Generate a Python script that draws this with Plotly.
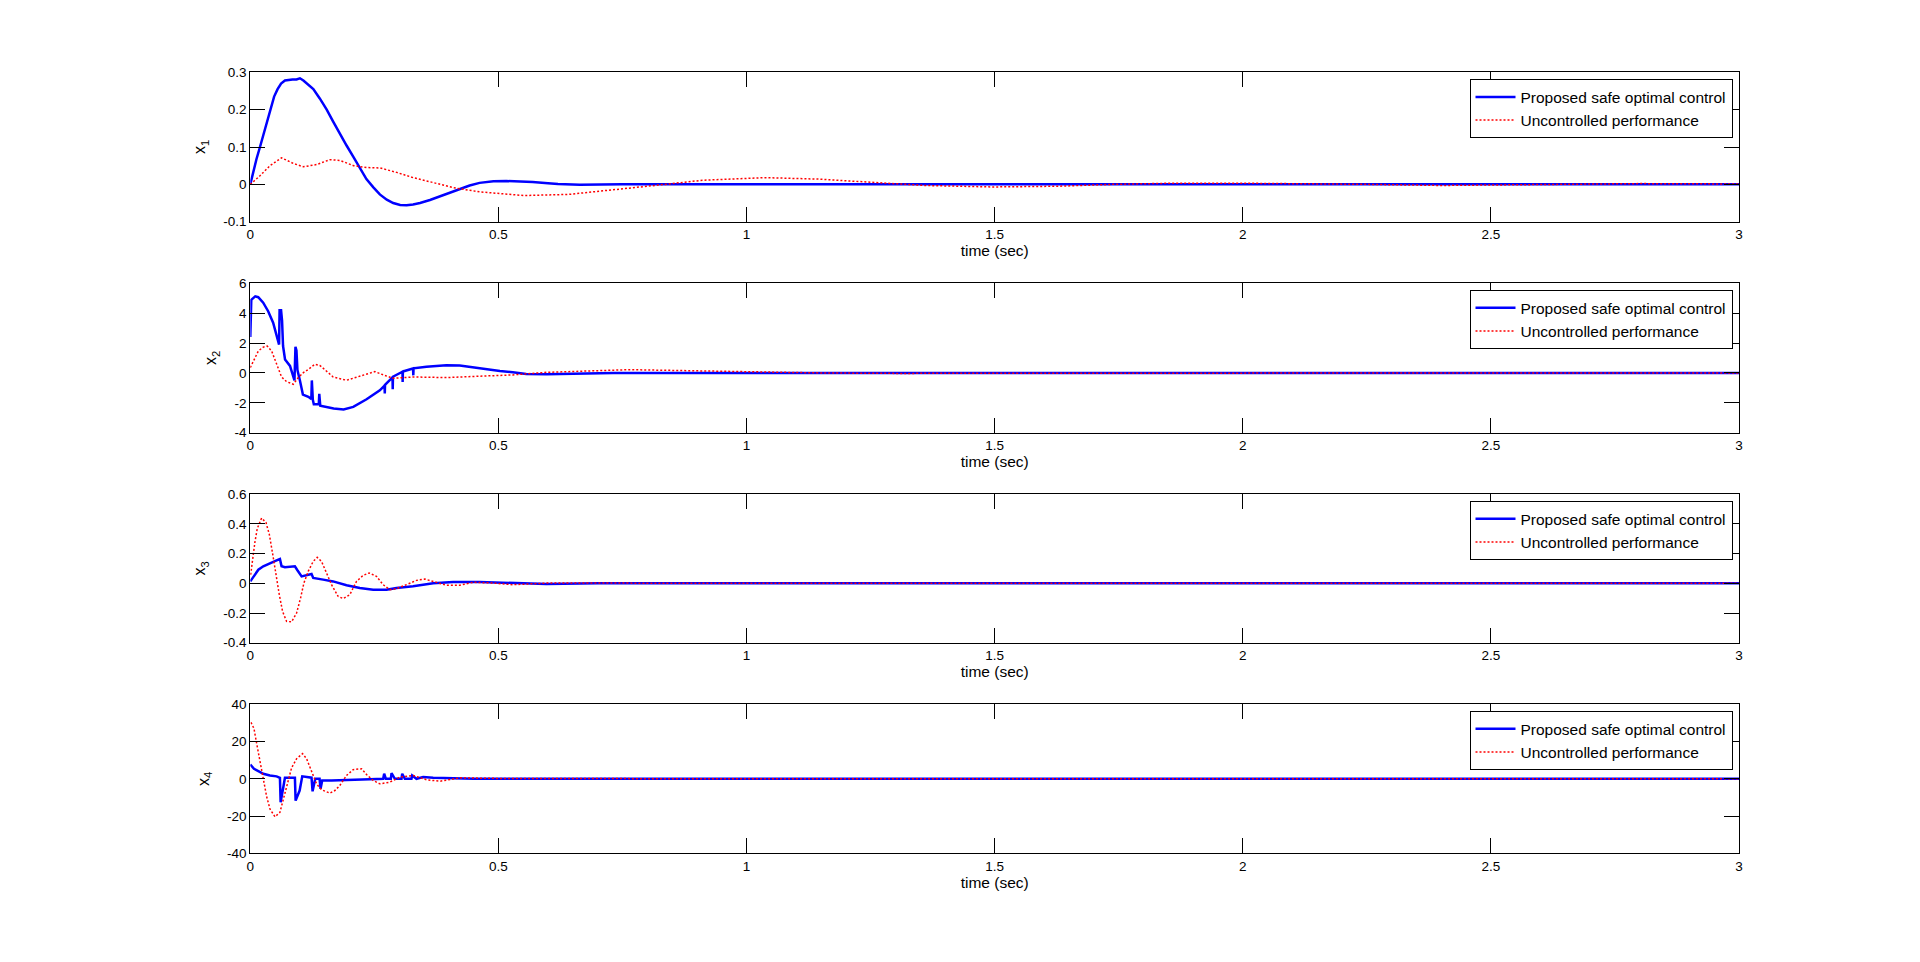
import plotly.graph_objects as go

# ---------------- data ----------------
T_LABELS = ["0", "0.5", "1", "1.5", "2", "2.5", "3"]
T_TICKS = [0, 0.5, 1, 1.5, 2, 2.5, 3]

Y1_TICKS = [-0.1, 0, 0.1, 0.2, 0.3]
Y1_LABELS = ["-0.1", "0", "0.1", "0.2", "0.3"]
Y2_TICKS = [-4, -2, 0, 2, 4, 6]
Y2_LABELS = ["-4", "-2", "0", "2", "4", "6"]
Y3_TICKS = [-0.4, -0.2, 0, 0.2, 0.4, 0.6]
Y3_LABELS = ["-0.4", "-0.2", "0", "0.2", "0.4", "0.6"]
Y4_TICKS = [-40, -20, 0, 20, 40]
Y4_LABELS = ["-40", "-20", "0", "20", "40"]

SERIES_NAMES = ["Proposed safe optimal control", "Uncontrolled performance"]
Y_TITLES = ["x<sub>1</sub>", "x<sub>2</sub>", "x<sub>3</sub>", "x<sub>4</sub>"]
X_TITLE = "time (sec)"

# x1
T1_BLUE = [0, 0.006, 0.0125, 0.0195, 0.03, 0.0397, 0.048, 0.055, 0.062, 0.0698, 0.078, 0.085,
           0.093, 0.100, 0.107, 0.115, 0.127, 0.14, 0.154, 0.167, 0.18, 0.194, 0.208,
           0.221, 0.234, 0.248, 0.261, 0.275, 0.288, 0.302, 0.315, 0.328, 0.342, 0.362,
           0.382, 0.402, 0.422, 0.442, 0.462, 0.49, 0.516, 0.545, 0.569, 0.6, 0.62,
           0.664, 0.75, 1.0, 1.5, 2.0, 2.5, 3.0]
X1_BLUE = [0, 0.035, 0.068, 0.1, 0.15, 0.2, 0.235, 0.255, 0.27, 0.278, 0.28, 0.281,
           0.281, 0.284, 0.278, 0.268, 0.255, 0.23, 0.2, 0.168, 0.136, 0.104, 0.073,
           0.042, 0.014, -0.008, -0.027, -0.041, -0.05, -0.055, -0.056, -0.054, -0.05, -0.042,
           -0.032, -0.021, -0.011, -0.003, 0.004, 0.008, 0.009, 0.008, 0.006, 0.003, 0.001,
           -0.001, 0, 0, 0, 0, 0, 0]
T1_RED = [0, 0.0195, 0.0397, 0.063, 0.0866, 0.107, 0.134, 0.160, 0.181, 0.208, 0.234,
          0.261, 0.295, 0.328, 0.368, 0.409, 0.462, 0.552, 0.641, 0.732, 0.822, 0.911,
          1.037, 1.145, 1.271, 1.36, 1.495, 1.63, 1.738, 1.855, 2.0, 2.13, 2.25, 2.4,
          2.5, 2.65, 2.8, 3.0]
X1_RED = [0, 0.023, 0.05, 0.071, 0.056, 0.047, 0.053, 0.066, 0.064, 0.05, 0.045,
          0.044, 0.032, 0.018, 0.005, -0.009, -0.02, -0.030, -0.027, -0.015, -0.002, 0.011,
          0.018, 0.014, 0.003, -0.003, -0.007, -0.005, 0, 0.003, 0.003, 0.002, 0, -0.003,
          -0.002, 0.001, 0.002, 0.001]

# x2
T2_BLUE = [0, 0.002, 0.01, 0.016, 0.026, 0.036, 0.046, 0.056, 0.058, 0.059, 0.062, 0.064,
           0.066, 0.070, 0.080, 0.089, 0.091, 0.093, 0.095, 0.1, 0.106, 0.117, 0.123,
           0.124, 0.126, 0.128, 0.138, 0.139, 0.141, 0.168, 0.188, 0.2075, 0.2343, 0.261,
           0.2705, 0.271, 0.2715, 0.2866, 0.287, 0.2875, 0.3067, 0.307, 0.3075, 0.328,
           0.3285, 0.329, 0.355, 0.395, 0.422, 0.449, 0.476, 0.503, 0.529, 0.556, 0.597,
           0.664, 0.731, 1.0, 1.5, 2.0, 2.5, 3.0]
X2_BLUE = [2.4, 4.9, 5.13, 5.07, 4.7, 4.13, 3.36, 2.2, 1.9, 4.2, 4.2, 3.5,
           1.8, 0.9, 0.47, -0.5, 1.75, 1.5, 0.2, -0.5, -1.45, -1.6, -1.75,
           -0.5, -1.8, -2.1, -2.1, -1.4, -2.2, -2.38, -2.44, -2.27, -1.76, -1.16,
           -0.85, -1.38, -0.8, -0.3, -1.09, -0.25, 0.08, -0.6, 0.1, 0.3,
           -0.16, 0.31, 0.42, 0.51, 0.49, 0.36, 0.22, 0.13, 0.04, -0.07, -0.09,
           -0.02, 0, 0, 0, 0, 0, 0]
T2_RED = [0, 0.0074, 0.0162, 0.0262, 0.0343, 0.043, 0.053, 0.063, 0.073, 0.0866, 0.0967,
          0.107, 0.117, 0.130, 0.140, 0.1537, 0.167, 0.194, 0.221, 0.241, 0.251, 0.268,
          0.288, 0.328, 0.395, 0.462, 0.529, 0.597, 0.664, 0.764, 0.832, 0.92, 1.0, 1.15,
          1.3, 1.5, 1.7, 2.0, 2.5, 3.0]
X2_RED = [0.36, 0.9, 1.47, 1.73, 1.8, 1.47, 0.58, -0.27, -0.58, -0.76, -0.31,
          0.02, 0.24, 0.58, 0.51, 0.13, -0.27, -0.49, -0.2, 0.02, 0.09, -0.13,
          -0.36, -0.27, -0.31, -0.22, -0.13, 0.04, 0.13, 0.22, 0.18, 0.13, 0.08, 0.0,
          -0.03, -0.02, 0.01, 0.0, 0.0, 0.0]

# x3
T3_BLUE = [0, 0.0074, 0.0162, 0.0262, 0.0396, 0.053, 0.0597, 0.063, 0.0698, 0.0899,
           0.0946, 0.1034, 0.1234, 0.1268, 0.1469, 0.167, 0.1939, 0.2207, 0.2476, 0.2745,
           0.2946, 0.328, 0.3685, 0.4087, 0.462, 0.5295, 0.5966, 0.7, 1.0, 2.0, 3.0]
X3_BLUE = [0.013, 0.047, 0.092, 0.115, 0.137, 0.155, 0.164, 0.115, 0.108, 0.115,
           0.09, 0.047, 0.063, 0.036, 0.025, 0.013, -0.013, -0.031, -0.043, -0.043,
           -0.031, -0.02, 0, 0.009, 0.009, 0.002, -0.004, 0, 0, 0, 0]
T3_RED = [0.0007, 0.0047, 0.0094, 0.0141, 0.0228, 0.0316, 0.0383, 0.045, 0.0517, 0.0584,
          0.0651, 0.0731, 0.0832, 0.0933, 0.1013, 0.108, 0.1167, 0.1268, 0.1348, 0.1435,
          0.1536, 0.1637, 0.1771, 0.1872, 0.2006, 0.214, 0.2275, 0.2395, 0.2543, 0.2677,
          0.2811, 0.2946, 0.3147, 0.3348, 0.3516, 0.3685, 0.3953, 0.4221, 0.449, 0.4892,
          0.5295, 0.6, 0.8, 1.2, 2.0, 3.0]
X3_RED = [0.058, 0.17, 0.28, 0.37, 0.44, 0.41, 0.33, 0.2, 0.058, -0.076,
          -0.19, -0.256, -0.26, -0.2, -0.099, 0.002, 0.081, 0.148, 0.175, 0.148,
          0.07, -0.009, -0.088, -0.103, -0.076, 0.013, 0.054, 0.07, 0.047, -0.009,
          -0.043, -0.036, -0.009, 0.02, 0.029, 0.013, -0.013, -0.013, 0.007, 0.002,
          -0.009, 0.002, 0, 0, 0, 0]

# x4
T4_BLUE = [0, 0.0074, 0.0162, 0.0262, 0.0396, 0.053, 0.0597, 0.0611, 0.0665, 0.0698,
           0.0899, 0.0913, 0.0994, 0.1047, 0.1234, 0.1255, 0.1309, 0.1396, 0.1416,
           0.1449, 0.1637, 0.1939, 0.2409, 0.2678, 0.2698, 0.2732, 0.2832, 0.2846,
           0.2913, 0.3047, 0.3061, 0.3114, 0.3248, 0.3262, 0.3349, 0.3483, 0.3685, 0.45,
           1.0, 2.0, 3.0]
X4_BLUE = [7.7, 5.4, 4.1, 2.7, 1.8, 1.3, 0.5, -12.6, -4.5, 0.5,
           0.5, -11.7, -6.3, 1.3, 0.6, -6.7, 0, 0, -5.4,
           -0.9, -0.9, -0.5, -0.2, 0, 2.7, 0, 0, 3.0,
           0, 0, 2.7, 0, 0, 1.8, 0, 0.9, 0.5, 0,
           0, 0, 0]
T4_RED = [0.0014, 0.0074, 0.0128, 0.0182, 0.0229, 0.0276, 0.0329, 0.0396, 0.0497, 0.0597,
          0.0678, 0.0745, 0.0832, 0.0933, 0.1054, 0.1134, 0.1234, 0.1335, 0.1435, 0.1603,
          0.1704, 0.1804, 0.1939, 0.2073, 0.2241, 0.2342, 0.2476, 0.2610, 0.2811, 0.3013,
          0.328, 0.3551, 0.3819, 0.4221, 0.5, 0.7, 1.0, 2.0, 3.0]
X4_RED = [30.3, 27, 19, 10.8, 5.4, -2.7, -9.5, -16.2, -20.4, -18,
          -9.9, -2.7, 5.9, 10.8, 13.5, 10.8, 3.6, -2.7, -5.9, -7.7,
          -6.3, -3.6, 1.8, 4.9, 5.4, 2.3, -0.9, -2.7, -1.8, 0.9,
          1.8, -0.5, -1.3, 0.5, 0.2, 0, 0, 0, 0]

# ---------------- figure ----------------
BLUE = "#0000ff"
RED = "#ff0000"
FONT = "Liberation Sans, Arial, sans-serif"

panels = [
    (T1_BLUE, X1_BLUE, T1_RED, X1_RED, [-0.1, 0.3], Y1_TICKS, Y1_LABELS),
    (T2_BLUE, X2_BLUE, T2_RED, X2_RED, [-4, 6], Y2_TICKS, Y2_LABELS),
    (T3_BLUE, X3_BLUE, T3_RED, X3_RED, [-0.4, 0.6], Y3_TICKS, Y3_LABELS),
    (T4_BLUE, X4_BLUE, T4_RED, X4_RED, [-40, 40], Y4_TICKS, Y4_LABELS),
]

W, H = 1920, 962
# axes pixel boxes (top, bottom) measured
boxes = [(72.3, 221.7), (283.3, 432.7), (494.3, 642.7), (704.3, 853.3)]
XL, XR = 250.3, 1739.0

fig = go.Figure()
layout = dict(
    width=W, height=H, autosize=False,
    margin=dict(l=0, r=0, t=0, b=0, pad=0, autoexpand=False),
    paper_bgcolor="white", plot_bgcolor="white",
    font=dict(family=FONT, size=13, color="black"),
)

for i, (tb, xb, tr, xr, yr, yt, yl) in enumerate(panels):
    n = "" if i == 0 else str(i + 1)
    xa = "x" + n
    ya = "y" + n
    lg = "legend" + n
    fig.add_trace(go.Scatter(x=tb, y=xb, mode="lines", name=SERIES_NAMES[0],
                             line=dict(color=BLUE, width=2.5), xaxis=xa, yaxis=ya,
                             legend=lg, showlegend=True))
    fig.add_trace(go.Scatter(x=tr, y=xr, mode="lines", name=SERIES_NAMES[1],
                             line=dict(color=RED, width=1.5, dash="2px,2px"), xaxis=xa,
                             yaxis=ya, legend=lg, showlegend=True))
    top, bot = boxes[i]
    dom_y = [1 - bot / H, 1 - top / H]
    common = dict(showline=True, linecolor="black", linewidth=1, mirror="ticks",
                  ticks="inside", ticklen=15, tickwidth=1, tickcolor="black",
                  showgrid=False, zeroline=False, automargin=False,
                  tickfont=dict(family=FONT, size=13.5))
    layout["xaxis" + n] = dict(domain=[XL / W, XR / W], range=[0, 3], anchor=ya,
                               tickmode="array", tickvals=T_TICKS, ticktext=T_LABELS,
                               title=dict(text=X_TITLE, font=dict(family=FONT, size=15.5),
                                          standoff=4),
                               **common)
    layout["yaxis" + n] = dict(domain=dom_y, range=yr, anchor=xa,
                               tickmode="array", tickvals=yt, ticktext=yl,
                               title=dict(text=Y_TITLES[i], font=dict(family=FONT, size=16),
                                          standoff=13),
                               **common)
    layout[lg] = dict(x=1732.5 / W, y=1 - (top + 7) / H, xanchor="right", yanchor="top",
                      bgcolor="white", bordercolor="black", borderwidth=1,
                      font=dict(family=FONT, size=15.5, color="black"),
                      itemwidth=40, tracegroupgap=0)

fig.update_layout(**layout)
fig.write_html("out.html", config={"displayModeBar": False},
               post_script="document.body.style.margin='0';")
